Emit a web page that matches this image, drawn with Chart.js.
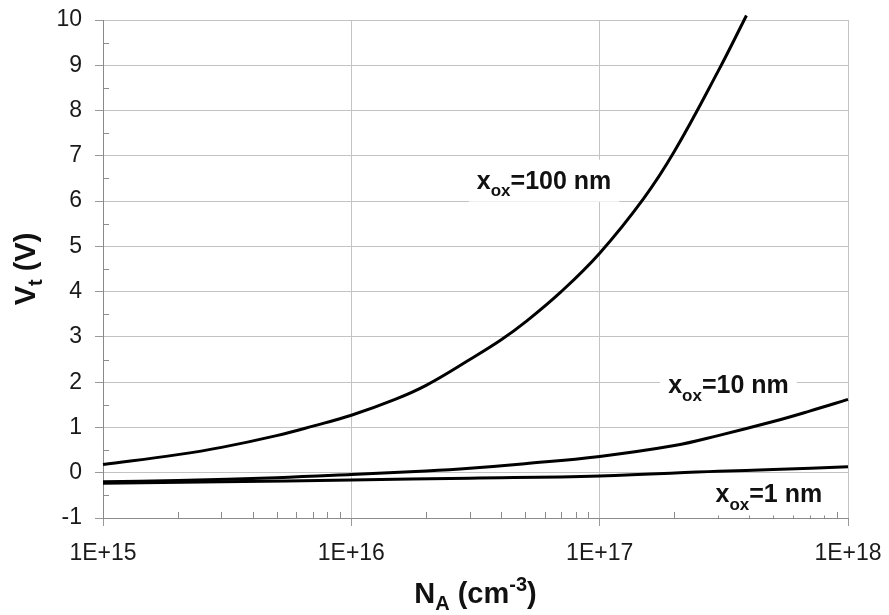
<!DOCTYPE html>
<html>
<head>
<meta charset="utf-8">
<title>Vt vs NA</title>
<script src="https://cdn.jsdelivr.net/npm/chart.js@4.4.1/dist/chart.umd.min.js"></script>
<style>
  html, body { margin: 0; padding: 0; background: #fff; }
  #wrap { width: 889px; height: 615px; }
</style>
</head>
<body>
<div id="wrap"><canvas id="myChart" width="889" height="615"></canvas></div>
<script>
// tick labels
const xTickValues = [1e15, 1e16, 1e17, 1e18];
const xTickLabels = ['1E+15', '1E+16', '1E+17', '1E+18'];
const yTickValues = [-1, 0, 1, 2, 3, 4, 5, 6, 7, 8, 9, 10];
const yTickLabels = ['-1', '0', '1', '2', '3', '4', '5', '6', '7', '8', '9', '10'];

// x_ox = 100 nm
const na100 = [1e15, 2e15, 3e15, 5e15, 7e15, 1e16, 1.5e16, 2e16, 3e16, 4e16, 5e16, 7e16, 1e17, 1.5e17, 2e17, 3e17, 3.9e17];
const vt100 = [0.18, 0.40, 0.56, 0.82, 1.03, 1.27, 1.62, 1.93, 2.50, 2.93, 3.32, 4.00, 4.85, 6.05, 7.10, 8.87, 10.1];

// x_ox = 10 nm
const na10 = [1e15, 2e15, 5e15, 1e16, 2e16, 3e16, 5e16, 1e17, 2e17, 3e17, 5e17, 7e17, 1e18];
const vt10 = [-0.20, -0.17, -0.11, -0.04, 0.04, 0.10, 0.20, 0.36, 0.60, 0.82, 1.13, 1.36, 1.62];

// x_ox = 1 nm
const na1 = [1e15, 3e15, 1e16, 3e16, 1e17, 3e17, 5e17, 1e18];
const vt1 = [-0.23, -0.20, -0.16, -0.12, -0.07, 0.03, 0.07, 0.13];

// curve labels: [normal, subscript, rest]
const curveLabels = [
    { parts: ['x', 'ox', '=100 nm'], at: [5.97e16, 6.45] },
    { parts: ['x', 'ox', '=10 nm'], at: [3.3e17, 1.93] },
    { parts: ['x', 'ox', '=1 nm'], at: [4.8e17, -0.48] }
];

const FONT = '"Liberation Sans", Arial, sans-serif';

const toPoints = (xs, ys) => xs.map((v, i) => ({ x: v, y: ys[i] }));

// draws a run of text pieces, some of them lowered or raised
const drawRich = (ctx, pieces, cx, baseline, size, draw = true) => {
    const widths = pieces.map(p => {
        ctx.font = `bold ${p.shift ? Math.round(size * 0.68) : size}px ${FONT}`;
        return ctx.measureText(p.t).width;
    });
    const total = widths.reduce((a, b) => a + b, 0);
    if (!draw) return total;
    let x = cx - total / 2;
    ctx.textAlign = 'left';
    ctx.textBaseline = 'alphabetic';
    pieces.forEach((p, i) => {
        ctx.font = `bold ${p.shift ? Math.round(size * 0.68) : size}px ${FONT}`;
        ctx.fillText(p.t, x, baseline + (p.shift || 0) * size);
        x += widths[i];
    });
    return total;
};

const decorations = {
    id: 'decorations',
    beforeDatasetsDraw(chart) {
        const { ctx, scales: { x, y } } = chart;
        ctx.save();

        // minor ticks pointing inward
        ctx.strokeStyle = '#8c8c8c';
        ctx.lineWidth = 1;
        xTickValues.slice(0, -1).forEach(d => {
            for (let m = 2; m <= 9; m++) {
                const px = Math.round(x.getPixelForValue(m * d)) + 0.5;
                ctx.beginPath();
                ctx.moveTo(px, y.bottom);
                ctx.lineTo(px, y.bottom - 6);
                ctx.stroke();
            }
        });
        yTickValues.slice(0, -1).forEach(v => {
            const py = Math.round(y.getPixelForValue(v + 0.5)) + 0.5;
            ctx.beginPath();
            ctx.moveTo(x.left, py);
            ctx.lineTo(x.left + 6, py);
            ctx.stroke();
        });

        // curve labels on white boxes
        const size = 25;
        curveLabels.forEach(lab => {
            const cx = x.getPixelForValue(lab.at[0]);
            const cy = y.getPixelForValue(lab.at[1]);
            const pieces = [{ t: lab.parts[0] }, { t: lab.parts[1], shift: 0.3 }, { t: lab.parts[2] }];
            const w = drawRich(ctx, pieces, cx, cy + 8, size, false);
            ctx.fillStyle = '#fff';
            ctx.fillRect(cx - w / 2 - 8, cy - 21, w + 16, 42);
            ctx.fillStyle = '#111';
            drawRich(ctx, pieces, cx, cy + 8, size);
        });
        ctx.restore();
    },
    afterDraw(chart) {
        const { ctx, chartArea } = chart;
        ctx.save();
        ctx.fillStyle = '#111';
        const size = 29;
        // x axis title
        drawRich(ctx, [
            { t: 'N' }, { t: 'A', shift: 0.25 }, { t: ' (cm' }, { t: '-3', shift: -0.4 }, { t: ')' }
        ], (chartArea.left + chartArea.right) / 2, 603, size);
        // y axis title
        ctx.translate(35, (chartArea.top + chartArea.bottom) / 2);
        ctx.rotate(-Math.PI / 2);
        drawRich(ctx, [{ t: 'V' }, { t: 't', shift: 0.25 }, { t: ' (V)' }], 0, 0, size);
        ctx.restore();
    }
};

const lineStyle = {
    borderColor: '#000',
    borderWidth: 3,
    pointRadius: 0,
    fill: false,
    tension: 0.4,
    clip: 8
};

// keep the plot box where the reference has it
const noScalePadding = s => {
    s.paddingTop = 0;
    s.paddingBottom = 0;
    s.paddingLeft = 0;
    s.paddingRight = 0;
};

const myChart = new Chart(document.getElementById('myChart'), {
    type: 'line',
    data: {
        datasets: [
            { label: 'x_ox=100 nm', data: toPoints(na100, vt100), ...lineStyle },
            { label: 'x_ox=10 nm', data: toPoints(na10, vt10), ...lineStyle },
            { label: 'x_ox=1 nm', data: toPoints(na1, vt1), ...lineStyle }
        ]
    },
    options: {
        responsive: false,
        animation: false,
        layout: { padding: { top: 20, right: 41, left: 0, bottom: 0 } },
        plugins: {
            legend: { display: false },
            tooltip: { enabled: false }
        },
        scales: {
            x: {
                type: 'logarithmic',
                min: 1e15,
                max: 1e18,
                afterBuildTicks: s => { s.ticks = xTickValues.map(v => ({ value: v })); },
                afterFit: s => { s.height = 97; noScalePadding(s); },
                ticks: {
                    callback: v => xTickLabels[xTickValues.indexOf(v)],
                    autoSkip: false,
                    maxRotation: 0,
                    padding: 14,
                    color: '#1a1a1a',
                    font: { family: FONT, size: 23 }
                },
                grid: { color: '#c3c3c3', lineWidth: 1, tickLength: 8, tickColor: '#999' },
                border: { color: '#8a8a8a', width: 1 }
            },
            y: {
                min: -1,
                max: 10,
                afterBuildTicks: s => { s.ticks = yTickValues.map(v => ({ value: v })); },
                afterFit: s => { s.width = 103; noScalePadding(s); },
                ticks: {
                    callback: v => yTickLabels[yTickValues.indexOf(v)],
                    padding: 13,
                    color: '#1a1a1a',
                    font: { family: FONT, size: 23 }
                },
                grid: { color: '#c3c3c3', lineWidth: 1, tickLength: 8, tickColor: '#999' },
                border: { color: '#8a8a8a', width: 1 }
            }
        }
    },
    plugins: [decorations]
});
</script>
</body>
</html>
